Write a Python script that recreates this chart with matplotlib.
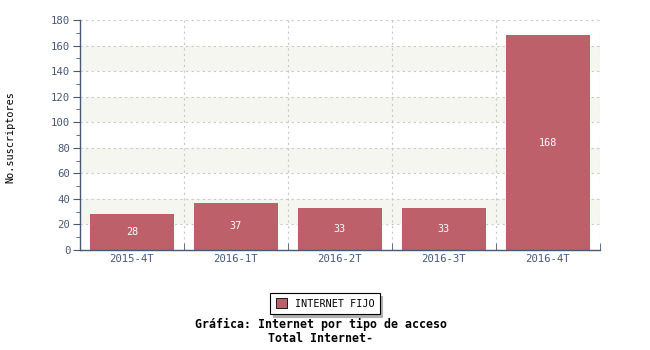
import matplotlib
matplotlib.use("Agg")
import matplotlib.pyplot as plt
import numpy as np

categories = ["2015-4T", "2016-1T", "2016-2T", "2016-3T", "2016-4T"]
values = [28, 37, 33, 33, 168]
series_name = "INTERNET FIJO"
title_lines = ["Gráfica: Internet por tipo de acceso", "Total Internet-"]
ylabel = "No.suscriptores"

axis_color = "#4a5878"
bar_color = "#bd606a"
band_color = "#f6f6f1"
mono = "DejaVu Sans Mono"
fs = 7.3

fig = plt.figure(figsize=(6.5, 3.5), dpi=100)
ax = fig.add_axes([80/650, 1-250/350, 520/650, 230/350])

x = np.arange(len(categories))
ax.set_xlim(-0.5, len(categories) - 0.5)
ax.set_ylim(0, 180)

for lo in range(20, 180, 40):
    ax.axhspan(lo, lo + 20, color=band_color, zorder=0, lw=0)

for yv in range(20, 181, 20):
    ax.axhline(yv, color="#c8c8c8", ls=(0, (2, 3)), lw=0.8, zorder=1)
for xv in np.arange(0.5, len(categories), 1.0):
    ax.axvline(xv, color="#c8c8c8", ls=(0, (2, 3)), lw=0.8, zorder=1)

bars = ax.bar(x, values, width=0.81, color=bar_color, zorder=2, label=series_name)
for xi, v in zip(x, values):
    ax.text(xi, v / 2, str(v), ha="center", va="center", color="white",
            fontsize=fs, family=mono, zorder=3)

for s in ["top", "right"]:
    ax.spines[s].set_visible(False)
for s in ["left", "bottom"]:
    ax.spines[s].set_color(axis_color)
    ax.spines[s].set_linewidth(1.0)

ax.set_yticks(range(0, 181, 20))
ax.set_yticks(range(0, 181, 10), minor=True)
ax.set_xticks(x)
ax.set_xticklabels(categories)
ax.set_xticks(np.arange(-0.5, len(categories), 1.0), minor=True)
ax.tick_params(axis="x", which="major", length=0, pad=3)
ax.tick_params(axis="x", which="minor", length=5, direction="in", color=axis_color)
ax.tick_params(axis="y", which="major", length=5, direction="out", color=axis_color, pad=2)
ax.tick_params(axis="y", which="minor", length=3, direction="out", color=axis_color)
for lab in ax.get_xticklabels() + ax.get_yticklabels():
    lab.set_family(mono)
    lab.set_fontsize(fs + 0.4)
    lab.set_color(axis_color)

fig.text(10/650, 1-137/350, ylabel, rotation=90, ha="center", va="center",
         family=mono, fontsize=fs, color="black")

leg = fig.legend(handles=[bars], labels=[series_name], loc="center",
                 bbox_to_anchor=(325/650, 1-303.5/350), prop={"family": mono, "size": fs},
                 frameon=True, fancybox=False, shadow={"color": "#b0b0b0", "alpha": 1.0},
                 handlelength=1.1, handleheight=1.1, borderpad=0.5, handletextpad=0.8,
                 borderaxespad=0)
leg.get_frame().set_edgecolor("black")
leg.get_frame().set_linewidth(0.8)
leg._legend_box.sep = 0
for p in leg.get_patches():
    p.set_edgecolor("black")
    p.set_linewidth(0.6)
fig.canvas.draw()
# widen frame slightly to match reference padding
leg.borderpad = 0.5

fig.text(321/650, 1-324/350, title_lines[0], ha="center", va="center",
         family=mono, fontsize=8.4, weight="bold")
fig.text(321/650, 1-338/350, title_lines[1], ha="center", va="center",
         family=mono, fontsize=8.4, weight="bold")

fig.savefig("out.png", dpi=100)
